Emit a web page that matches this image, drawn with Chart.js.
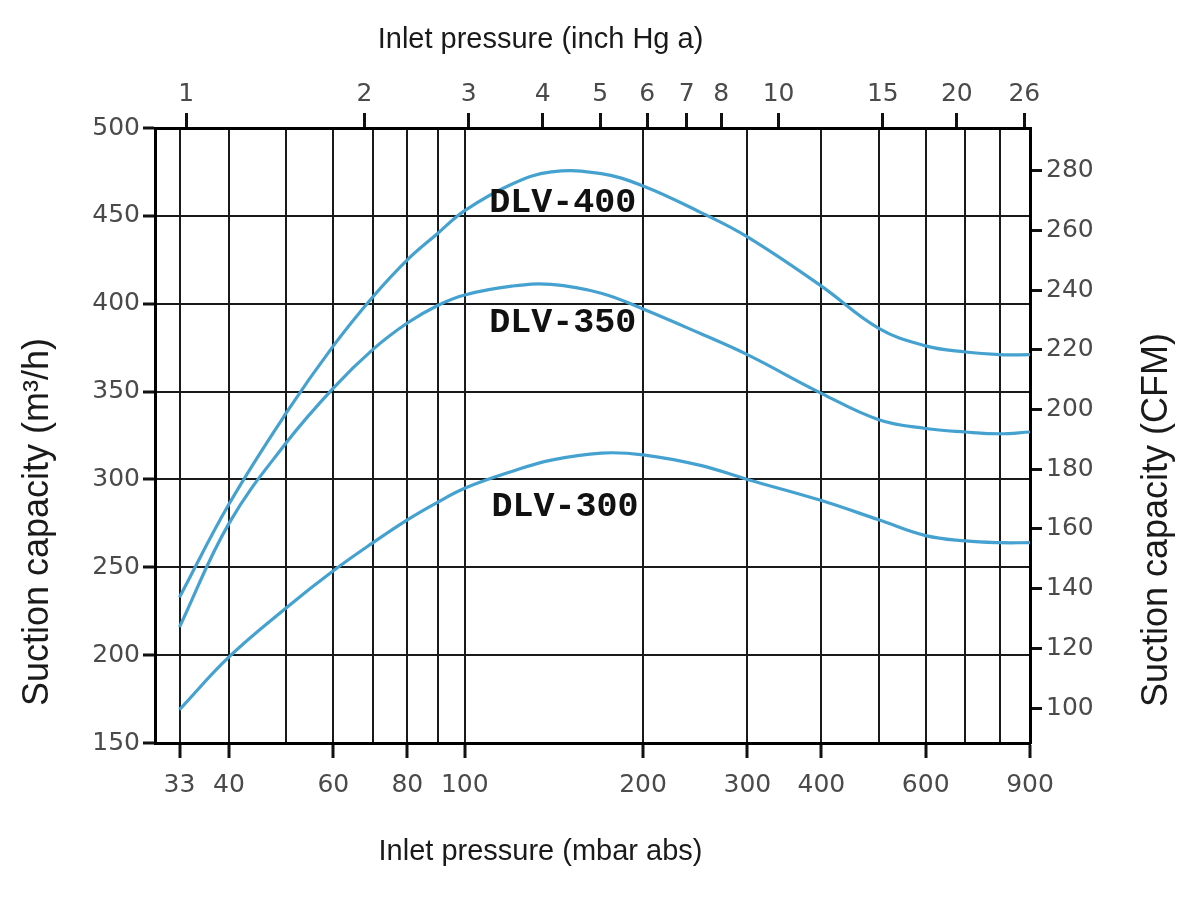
<!DOCTYPE html>
<html>
<head>
<meta charset="utf-8">
<title>DLV suction capacity</title>
<script src="https://cdn.jsdelivr.net/npm/chart.js@4.4.1/dist/chart.umd.min.js"></script>
<style>
  html, body { margin: 0; padding: 0; background: #fff; }
  #wrap { width: 1184px; height: 898px; }
</style>
</head>
<body>
<div id="wrap"><canvas id="chart" width="1184" height="898"></canvas></div>
<script>
// Inlet pressure (mbar abs) sample points, shared by all curves
const pressureMbar = [33, 40, 50, 60, 70, 80, 90, 100, 120, 140, 170, 200, 250, 300, 400, 500, 600, 700, 800, 900];

// Suction capacity (m3/h)
const dlv400 = [233, 286, 338, 376, 404, 425, 440, 453, 468, 475, 474, 467, 452, 438, 410, 386, 376, 372.5, 371, 371];
const dlv350 = [216, 275, 321, 352, 374, 389, 399, 405, 410, 411, 406, 397, 383, 371, 349, 334, 329, 327, 326, 327];
const dlv300 = [169, 199, 227, 248, 264, 277, 287, 295, 304.5, 311, 315, 314, 308, 300, 288, 277, 268, 265, 264, 264];

// Axis ticks
const mbarGrid = [33, 40, 50, 60, 70, 80, 90, 100, 200, 300, 400, 500, 600, 700, 800, 900];
const mbarLabels = [33, 40, 60, 80, 100, 200, 300, 400, 600, 900];
const inHgTicks = [1, 2, 3, 4, 5, 6, 7, 8, 10, 15, 20, 26];
const m3hTicks = [150, 200, 250, 300, 350, 400, 450, 500];
const cfmTicks = [100, 120, 140, 160, 180, 200, 220, 240, 260, 280];

// Curve names, placed in data coordinates (mbar, m3/h)
const curveLabels = [
  {text: 'DLV-400', x: 110, y: 457},
  {text: 'DLV-350', x: 110, y: 389},
  {text: 'DLV-300', x: 111, y: 284}
];

const MBAR_PER_INHG = 33.864;
const CFM_PER_M3H = 0.5886;
const X_MIN = 30, X_MAX = 900, Y_MIN = 150, Y_MAX = 500;

const lineColor = '#45a2d0';
const gridColor = '#1a1a1a';
const tickFont = {family: 'DejaVu Sans', size: 25};
const tickColor = '#4a4a4a';

const toPoints = vals => vals.map((v, i) => ({x: pressureMbar[i], y: v}));

const mkSeries = (label, vals) => ({
  label: label,
  data: toPoints(vals),
  borderColor: lineColor,
  borderWidth: 3.2,
  pointRadius: 0,
  fill: false,
  tension: 0.4,
  xAxisID: 'x',
  yAxisID: 'y'
});

// Text drawn on top: curve names and the four axis titles
const textPlugin = {
  id: 'texts',
  afterDatasetsDraw(chart) {
    const ctx = chart.ctx;
    const sx = chart.scales.x, sy = chart.scales.y;
    ctx.save();
    ctx.font = 'bold 35px "Liberation Mono"';
    ctx.fillStyle = '#111';
    ctx.textAlign = 'left';
    ctx.textBaseline = 'middle';
    curveLabels.forEach(l => {
      ctx.fillText(l.text, sx.getPixelForValue(l.x), sy.getPixelForValue(l.y));
    });
    ctx.restore();
  },
  afterDraw(chart) {
    const ctx = chart.ctx;
    const a = chart.chartArea;
    const cx = (a.left + a.right) / 2 - 52;
    ctx.save();
    ctx.fillStyle = '#1a1a1a';
    ctx.textAlign = 'center';
    ctx.textBaseline = 'middle';
    ctx.font = '29px "Liberation Sans"';
    ctx.fillText('Inlet pressure (inch Hg a)', cx, 40);
    ctx.fillText('Inlet pressure (mbar abs)', cx, 852);
    ctx.font = '36px "Liberation Sans"';
    ctx.translate(38, 522);
    ctx.rotate(-Math.PI / 2);
    ctx.fillText('Suction capacity (m\u00b3/h)', 0, 0);
    ctx.restore();
    ctx.save();
    ctx.fillStyle = '#1a1a1a';
    ctx.textAlign = 'center';
    ctx.textBaseline = 'middle';
    ctx.font = '36px "Liberation Sans"';
    ctx.translate(1157, 520);
    ctx.rotate(-Math.PI / 2);
    ctx.fillText('Suction capacity (CFM)', 0, 0);
    ctx.restore();
  }
};

const isLabeled = c => c.tick && mbarLabels.includes(c.tick.value);

new Chart(document.getElementById('chart'), {
  type: 'line',
  data: {
    datasets: [
      mkSeries('DLV-400', dlv400),
      mkSeries('DLV-350', dlv350),
      mkSeries('DLV-300', dlv300)
    ]
  },
  options: {
    responsive: false,
    animation: false,
    layout: {padding: 0},
    plugins: {
      legend: {display: false},
      tooltip: {enabled: false}
    },
    scales: {
      x: {
        type: 'logarithmic',
        position: 'bottom',
        min: X_MIN,
        max: X_MAX,
        afterBuildTicks: s => { s.ticks = mbarGrid.map(v => ({value: v})); },
        afterFit: s => { s.height = 155; },
        ticks: {
          autoSkip: false,
          maxRotation: 0,
          padding: 12,
          font: tickFont,
          color: tickColor,
          callback: v => mbarLabels.includes(v) ? String(v) : ''
        },
        grid: {
          color: gridColor,
          lineWidth: 2,
          tickLength: 15,
          tickWidth: 3,
          tickColor: c => isLabeled(c) ? '#111' : 'rgba(0,0,0,0)'
        },
        border: {display: true, color: '#000', width: 3}
      },
      x2: {
        type: 'logarithmic',
        position: 'top',
        min: X_MIN / MBAR_PER_INHG,
        max: X_MAX / MBAR_PER_INHG,
        afterBuildTicks: s => { s.ticks = inHgTicks.map(v => ({value: v})); },
        afterFit: s => { s.height = 128; },
        ticks: {
          autoSkip: false,
          maxRotation: 0,
          padding: 4,
          font: tickFont,
          color: tickColor,
          callback: v => String(v)
        },
        grid: {
          drawOnChartArea: false,
          tickLength: 15,
          tickWidth: 3,
          tickColor: '#111'
        },
        border: {display: true, color: '#000', width: 3}
      },
      y: {
        type: 'linear',
        position: 'left',
        min: Y_MIN,
        max: Y_MAX,
        afterBuildTicks: s => { s.ticks = m3hTicks.map(v => ({value: v})); },
        afterFit: s => { s.width = 155; },
        ticks: {
          padding: 3,
          font: tickFont,
          color: tickColor,
          callback: v => String(v)
        },
        grid: {
          color: gridColor,
          lineWidth: 2,
          tickLength: 12,
          tickWidth: 3,
          tickColor: '#111'
        },
        border: {display: true, color: '#000', width: 3}
      },
      y2: {
        type: 'linear',
        position: 'right',
        min: Y_MIN * CFM_PER_M3H,
        max: Y_MAX * CFM_PER_M3H,
        afterBuildTicks: s => { s.ticks = cfmTicks.map(v => ({value: v})); },
        afterFit: s => { s.width = 154; },
        ticks: {
          padding: 4,
          font: tickFont,
          color: tickColor,
          callback: v => String(v)
        },
        grid: {
          drawOnChartArea: false,
          tickLength: 12,
          tickWidth: 3,
          tickColor: '#111'
        },
        border: {display: true, color: '#000', width: 3}
      }
    }
  },
  plugins: [textPlugin]
});
</script>
</body>
</html>
